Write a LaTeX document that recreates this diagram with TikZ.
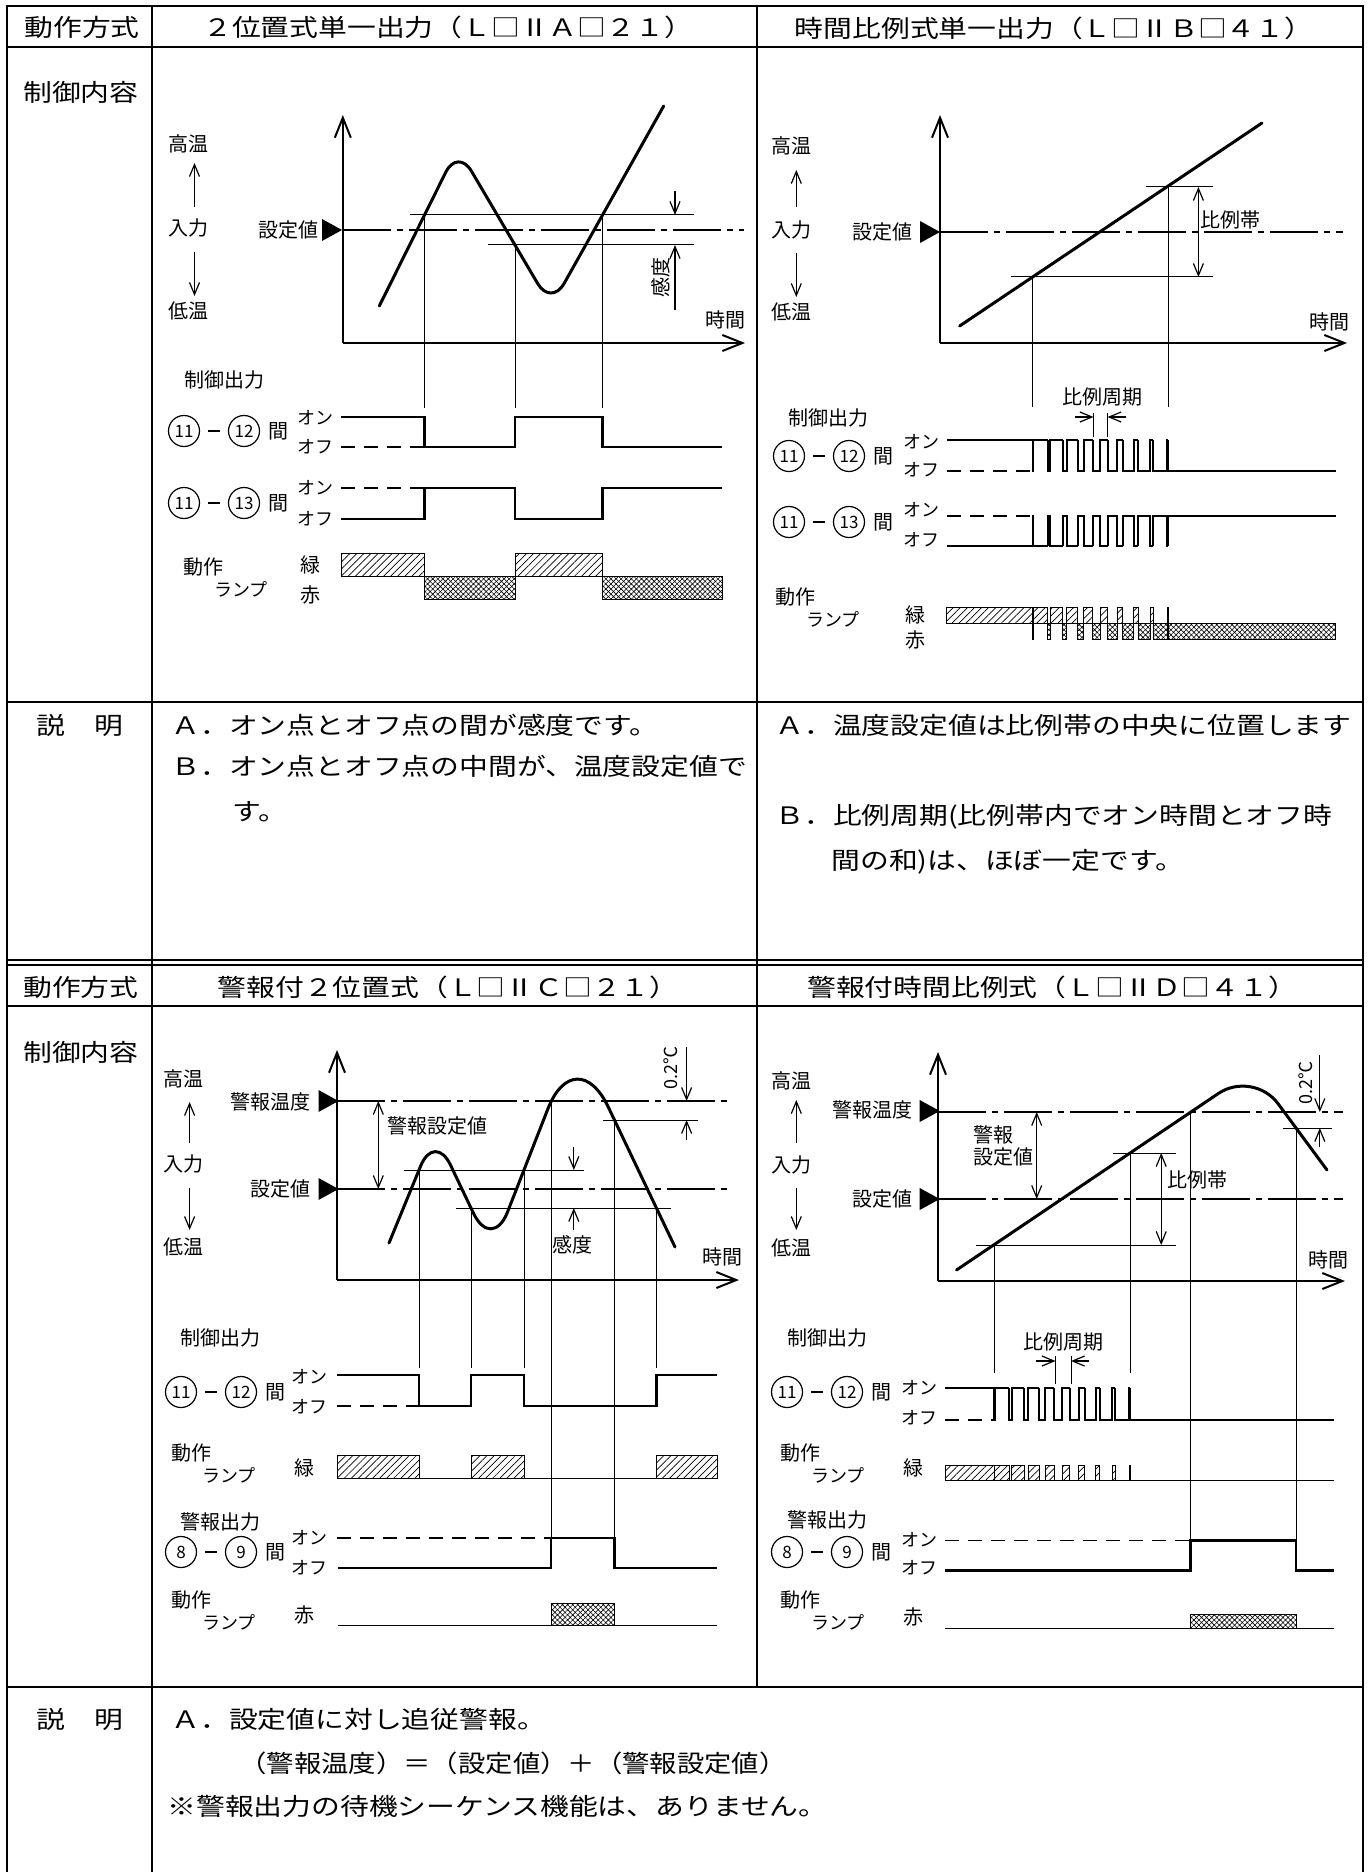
\documentclass[tikz,border=0pt]{standalone}
\usepackage{fontspec}
\newfontfamily\jp{Noto Sans CJK JP}
\newfontfamily\jpw[FakeStretch=1.2]{Noto Sans CJK JP}
\newfontfamily\jpm[FakeStretch=1.14]{Noto Sans CJK JP}
\usetikzlibrary{arrows.meta,patterns.meta,calc}
\newcommand\pairrow[7]{%
  \node[cnum] at (#1,#2) {#3};
  \draw[line width=1.1pt] ({#1+24},#2) -- ({#1+36},#2);
  \node[cnum] at ({#1+60},#2) {#4};
  \node[lb] at ({#1+94},#2) {間};
  \node[kt] at (#5,#6) {オン};
  \node[kt] at (#5,#7) {オフ};
}
\newcommand\tri[2]{\fill (#1,{#2-11}) -- ({#1+20},#2) -- (#1,{#2+11}) -- cycle;}
\newcommand\lamp[2]{\node[lb] at (#1,#2) {動作}; \node[kt] at ({#1+38},{#2+22}) {ランプ};}
\begin{document}
\begin{tikzpicture}[x=0.5pt,y=-0.5pt,
  tb/.style={line width=1pt},
  hd/.style={font=\fontsize{12}{14}\jpw, inner sep=0pt},
  bd/.style={font=\fontsize{12}{14}\jpw, inner sep=0pt, anchor=west},
  lb/.style={font=\fontsize{10}{12}\jp, inner sep=0pt},
  kt/.style={font=\fontsize{9}{11}\jp, inner sep=0pt},
  cnum/.style={draw, circle, minimum size=15.5pt, inner sep=0pt, line width=0.6pt, font=\fontsize{8.5}{10}\jp},
  axs/.style={line width=1pt, -{Straight Barb[length=10pt,width=8pt]}},
  crv/.style={line width=1.5pt, line cap=round},
  fine/.style={line width=0.5pt},
  sig/.style={line width=1.3pt},
  pul/.style={line width=1pt},
  dsh/.style={line width=0.6pt, dash pattern=on 7pt off 4.5pt},
  dd/.style={line width=0.6pt, dash pattern=on 24pt off 3pt on 3pt off 3pt},
  sarr/.style={line width=0.6pt, -{Straight Barb[length=6pt,width=5pt]}},
  darr/.style={line width=0.6pt, {Straight Barb[length=6pt,width=5pt]}-{Straight Barb[length=6pt,width=5pt]}},
  grn/.style={draw, line width=0.4pt, pattern={Lines[angle=45,distance=2.5pt,line width=0.35pt]}},
  rdx/.style={draw, line width=0.4pt, pattern={Hatch[angle=45,distance=1.8pt,line width=0.3pt]}},
]
\fill[white] (0,0) rectangle (1368,1872);
\useasboundingbox (0,0) rectangle (1368,1872);
% ---------- table ----------
\draw[tb] (7,1872) -- (7,6) -- (1363,6) -- (1363,1872);
\draw[tb] (152,6) -- (152,1872);
\draw[tb] (757,6) -- (757,1687);
\draw[tb] (7,47) -- (1363,47);
\draw[tb] (7,702) -- (1363,702);
\draw[tb] (7,960) -- (1363,960);
\draw[tb] (7,965) -- (1363,965);
\draw[tb] (7,1006) -- (1363,1006);
\draw[tb] (7,1687) -- (1363,1687);
\node[hd] (h1) at (82,27) {動作方式};
\node[hd] (h2) at (81,92) {制御内容};
\node[hd] (h3) at (80,725) {説　明};
\node[hd] (h4) at (81,987) {動作方式};
\node[hd] (h5) at (81,1052) {制御内容};
\node[hd] (h6) at (80,1719) {説　明};
\node[hd] (tA) at (448,27) {２位置式単一出力（Ｌ□ⅡＡ□２１）};
\node[hd] (tB) at (1054,28) {時間比例式単一出力（Ｌ□ⅡＢ□４１）};
\node[hd] (tC) at (448,987) {警報付２位置式（Ｌ□ⅡＣ□２１）};
\node[hd] (tD) at (1052,987) {警報付時間比例式（Ｌ□ⅡＤ□４１）};
\node[bd] (eA1) at (171,725) {Ａ．オン点とオフ点の間が感度です。};
\node[bd] (eA2) at (171,766) {Ｂ．オン点とオフ点の中間が、温度設定値で};
\node[bd] (eA3) at (232,812) {す。};
\node[bd] (eB1) at (775,725) {Ａ．温度設定値は比例帯の中央に位置します};
\node[bd] (eB2) at (775,817) {Ｂ．比例周期(比例帯内でオン時間とオフ時};
\node[bd] (eB3) at (831,862) {間の和)は、ほぼ一定です。};
\node[bd] (eC1) at (171,1719) {Ａ．設定値に対し追従警報。};
\node[anchor=west, inner sep=0pt, font=\fontsize{12}{14}\jpm] (eC2) at (239,1763) {（警報温度）＝（設定値）＋（警報設定値）};
\node[bd] (eC3) at (167,1806) {※警報出力の待機シーケンス機能は、ありません。};
% ---------- panel A ----------
\draw[axs] (342.8,343) -- (342.8,115);
\draw[axs] (342.8,343) -- (745,343);
\node[lb] (Ahi) at (188.4,144) {高温};
\node[lb] (Ain) at (188.4,228) {入力};
\node[lb] (Alo) at (188.4,311) {低温};
\draw[sarr] (194.5,207) -- (194.5,163);
\draw[sarr] (194.5,252) -- (194.5,296);
\node[lb] (Asv) at (288,230) {設定値};
\tri{322}{230}
\draw[dd] (342.8,230) -- (744,230);
\draw[fine] (410,215) -- (694.4,215);
\draw[fine] (487.7,245) -- (694.4,245);
\draw[crv, rounded corners=13.5pt] (379.3,306) -- (457.8,148) -- (504.5,227.25);
\draw[crv, rounded corners=13.3pt] (504.5,227.25) -- (551.2,306.5) -- (663.7,106);
\draw[sarr] (675,191) -- (675,215);
\draw[sarr] (675,310) -- (675,245);
\node[lb, rotate=90] (Ask) at (661.3,278) {感度};
\node[lb] (Ati) at (725.7,320) {時間};
\draw[fine] (424.5,215) -- (424.5,408);
\draw[fine] (515,245) -- (515,408);
\draw[fine] (602.5,215) -- (602.5,408);
\node[lb] (Aco) at (224,380) {制御出力};
\pairrow{184}{431}{11}{12}{315}{418}{447}
\draw[dsh] (341,447) -- (424.5,447);
\draw[sig] (341,417) -- (424.5,417) -- (424.5,447) -- (515,447) -- (515,417) -- (602.5,417) -- (602.5,447) -- (722,447);
\pairrow{184}{503}{11}{13}{315}{488}{519}
\draw[dsh] (341,488) -- (424.5,488);
\draw[sig] (341,519) -- (424.5,519) -- (424.5,488) -- (515,488) -- (515,519) -- (602.5,519) -- (602.5,488) -- (722,488);
\lamp{203}{567}
\node[lb] at (310,565) {緑};
\node[lb] at (310,595) {赤};
\draw[grn] (341,553) rectangle (424.5,576);
\draw[grn] (515,553) rectangle (602.5,576);
\draw[rdx] (424.5,576) rectangle (515,599);
\draw[rdx] (602.5,576) rectangle (722,599);
\draw[fine] (341,576) -- (722,576);
% ---------- panel B ----------
\draw[axs] (940,343) -- (940,115);
\draw[axs] (940,343) -- (1347,343);
\node[lb] (Bhi) at (791.2,146) {高温};
\node[lb] (Bin) at (791.2,230) {入力};
\node[lb] (Blo) at (791.2,312) {低温};
\draw[sarr] (796.3,207) -- (796.3,170);
\draw[sarr] (796.3,253) -- (796.3,297);
\node[lb] (Bsv) at (882.3,232) {設定値};
\tri{920}{232}
\draw[dd] (940,232) -- (1343.3,232);
\draw[crv] (959.6,326) -- (1262,123);
\draw[fine] (1145.6,187) -- (1213,187);
\draw[fine] (1010.5,277) -- (1213,277);
\draw[darr] (1198.4,187) -- (1198.4,277);
\node[lb, anchor=west] (Bpb) at (1200.4,220) {比例帯};
\node[lb] (Bti) at (1329.6,322) {時間};
\draw[fine] (1032.5,277) -- (1032.5,407);
\draw[fine] (1168,187) -- (1168,407);
\node[lb] (Bpc) at (1102,397) {比例周期};
\draw[fine] (1093.5,413) -- (1093.5,437);
\draw[fine] (1107.6,413) -- (1107.6,437);
\draw[sarr] (1075,417) -- (1093.5,417);
\draw[sarr] (1126,417) -- (1107.6,417);
\node[lb] (Bco) at (828,418) {制御出力};
\pairrow{789}{456}{11}{12}{921}{442}{470}
\draw[dsh] (946.7,471) -- (1032.5,471);
\draw[sig] (946.7,440) -- (1032.5,440);
\pairrow{789}{522}{11}{13}{921}{510}{540}
\draw[dsh] (946.7,516) -- (1032.5,516);
\draw[sig] (946.7,546) -- (1032.5,546);
\lamp{795}{597}
\node[lb] at (915,615) {緑};
\node[lb] at (915,640) {赤};
\draw[grn] (946.7,607) rectangle (1032.5,623);
\foreach \k in {0,...,8}{
  \pgfmathsetmacro\ts{1032.5+15.056*\k}
  \pgfmathsetmacro\tm{\ts+15.056*(\k+0.5)/9}
  \pgfmathsetmacro\te{\ts+15.056}
  \draw[pul] (\ts,440) -- (\ts,471) -- (\tm,471) -- (\tm,440) -- (\te,440);
  \draw[pul] (\ts,546) -- (\ts,516) -- (\tm,516) -- (\tm,546) -- (\te,546);
  \draw[grn] (\tm,607) rectangle (\te,623);
  \draw[rdx] (\ts,623) rectangle (\tm,639);
}
\draw[sig] (1168,440) -- (1168,471) -- (1335.5,471);
\draw[sig] (1168,546) -- (1168,516) -- (1335.5,516);
\draw[rdx] (1168,623) rectangle (1335.5,639);
% ---------- panel C ----------
\draw[axs] (337,1280) -- (337,1050);
\draw[axs] (337,1280) -- (739,1280);
\node[lb] (Chi) at (183.5,1079) {高温};
\node[lb] (Cin) at (183.5,1164) {入力};
\node[lb] (Clo) at (183.5,1247) {低温};
\draw[sarr] (189.6,1143) -- (189.6,1102);
\draw[sarr] (189.6,1188) -- (189.6,1230);
\node[lb] (Cat) at (270.6,1102) {警報温度};
\tri{318.5}{1101}
\node[lb] (Csv) at (280,1189) {設定値};
\tri{318.5}{1189}
\draw[dd] (337,1101) -- (728,1101);
\draw[dd] (337,1189) -- (728,1189);
\draw[darr] (378.3,1101) -- (378.3,1189);
\node[lb, anchor=west] (Cas) at (386.6,1126) {警報設定値};
\draw[fine] (403.6,1170) -- (583.5,1170);
\draw[fine] (456,1208) -- (671,1208);
\draw[crv, rounded corners=18.5pt] (389,1243) -- (434.7,1131.8) -- (463.3,1191.9);
\draw[crv, rounded corners=21.5pt] (463.3,1191.9) -- (491.9,1251.9) -- (533.7,1145.1);
\draw[crv, rounded corners=38pt] (533.7,1145.1) -- (575.5,1038.3) -- (675,1247);
\draw[sarr] (573.8,1147) -- (573.8,1170);
\draw[sarr] (573.8,1230) -- (573.8,1208);
\node[lb] (Csk) at (572,1245) {感度};
\draw[sarr] (686.6,1047) -- (686.6,1101);
\draw[sarr] (686.6,1140) -- (686.6,1120);
\draw[fine] (603,1120) -- (697.8,1120);
\node[lb, rotate=90, font=\fontsize{9}{11}\jp] (C02) at (671,1068) {0.2℃};
\node[lb] (Cti) at (722,1257) {時間};
\draw[fine] (419,1170) -- (419,1368);
\draw[fine] (471,1208) -- (471,1368);
\draw[fine] (524,1170) -- (524,1368);
\draw[fine] (551,1101) -- (551,1538);
\draw[fine] (614.5,1120) -- (614.5,1538);
\draw[fine] (656.5,1208) -- (656.5,1368);
\node[lb] (Cco) at (220,1338) {制御出力};
\pairrow{181}{1392}{11}{12}{309}{1377}{1407}
\draw[dsh] (337,1406) -- (419,1406);
\draw[sig] (337,1375) -- (419,1375) -- (419,1406) -- (471,1406) -- (471,1375) -- (524,1375) -- (524,1406) -- (656.5,1406) -- (656.5,1375) -- (717,1375);
\lamp{191}{1453}
\node[lb] at (304,1468) {緑};
\draw[grn] (337,1455) rectangle (419,1478);
\draw[grn] (471,1455) rectangle (524,1478);
\draw[grn] (656.5,1455) rectangle (717,1478);
\draw[fine] (337,1478) -- (717,1478);
\node[lb] (Cao) at (220,1522) {警報出力};
\pairrow{181}{1552}{8}{9}{309}{1538}{1568}
\draw[dsh] (337,1538) -- (551,1538);
\draw[sig] (338,1568) -- (551,1568) -- (551,1538) -- (614.5,1538) -- (614.5,1568) -- (717,1568);
\lamp{191}{1600}
\node[lb] at (304,1615) {赤};
\draw[rdx] (551,1603) rectangle (614.5,1625);
\draw[fine] (338,1625) -- (717,1625);
% ---------- panel D ----------
\draw[axs] (938,1281) -- (938,1052);
\draw[axs] (938,1281) -- (1345,1281);
\node[lb] (Dhi) at (791.2,1081) {高温};
\node[lb] (Din) at (791.2,1165) {入力};
\node[lb] (Dlo) at (791.2,1248) {低温};
\draw[sarr] (796.3,1143) -- (796.3,1100);
\draw[sarr] (796.3,1188) -- (796.3,1230);
\node[lb] (Dat) at (872.5,1110) {警報温度};
\tri{919.7}{1111}
\node[lb] (Dsv) at (882.3,1199) {設定値};
\tri{919.7}{1199}
\draw[dd] (938,1112) -- (1343.3,1112);
\draw[dd] (938,1199) -- (1343.3,1199);
\draw[darr] (1036.7,1112) -- (1036.7,1199);
\node[lb, anchor=west] (Das1) at (973.3,1135) {警報};
\node[lb, anchor=west] (Das2) at (973.3,1157) {設定値};
\draw[fine] (1113,1153) -- (1175.7,1153);
\draw[fine] (976,1245) -- (1175.7,1245);
\draw[darr] (1161.2,1153) -- (1161.2,1245);
\node[lb, anchor=west] (Dpb) at (1167,1180) {比例帯};
\draw[crv, rounded corners=21pt] (956.5,1270) -- (1253.2,1070) -- (1327,1170);
\draw[sarr] (1319.8,1055) -- (1319.8,1112);
\draw[sarr] (1319.8,1147) -- (1319.8,1128);
\draw[fine] (1282.6,1128) -- (1331.6,1128);
\node[lb, rotate=90, font=\fontsize{9}{11}\jp] (D02) at (1306,1083) {0.2℃};
\node[lb] (Dti) at (1328.6,1260) {時間};
\draw[fine] (994,1245) -- (994,1373);
\draw[fine] (1130,1153) -- (1130,1373);
\draw[fine] (1190.6,1112) -- (1190.6,1540.7);
\draw[fine] (1296,1128) -- (1296,1540.7);
\node[lb] (Dpc) at (1063,1342) {比例周期};
\draw[fine] (1055.5,1356) -- (1055.5,1384);
\draw[fine] (1071,1356) -- (1071,1384);
\draw[sarr] (1036,1361) -- (1055.5,1361);
\draw[sarr] (1089,1361) -- (1071,1361);
\node[lb] (Dco) at (827,1338) {制御出力};
\pairrow{787}{1392}{11}{12}{919}{1388}{1418}
\draw[dsh] (945,1420) -- (994,1420);
\draw[sig] (945,1388) -- (994,1388);
\lamp{800}{1453}
\node[lb] at (913,1468) {緑};
\draw[grn] (945,1465) rectangle (994,1480);
\foreach \k in {0,...,8}{
  \pgfmathsetmacro\ts{994+15.111*\k}
  \pgfmathsetmacro\tm{\ts+15.111*(\k+0.5)/9}
  \pgfmathsetmacro\te{\ts+15.111}
  \draw[pul] (\ts,1388) -- (\ts,1420) -- (\tm,1420) -- (\tm,1388) -- (\te,1388);
  \draw[grn] (\tm,1465) rectangle (\te,1480);
}
\draw[sig] (1130,1388) -- (1130,1420) -- (1333.5,1420);
\draw[fine] (945,1480) -- (1333.5,1480);
\node[lb] (Dao) at (827,1520) {警報出力};
\pairrow{787}{1552}{8}{9}{919}{1540}{1568}
\draw[dsh] (945,1540.7) -- (1190.6,1540.7);
\draw[sig] (945,1570.7) -- (1190.6,1570.7) -- (1190.6,1540.7) -- (1296,1540.7) -- (1296,1570.7) -- (1333.5,1570.7);
\lamp{800}{1600}
\node[lb] at (913,1617) {赤};
\draw[rdx] (1190.6,1614) rectangle (1296,1628);
\draw[fine] (945,1628) -- (1333.5,1628);
\end{tikzpicture}
\end{document}
